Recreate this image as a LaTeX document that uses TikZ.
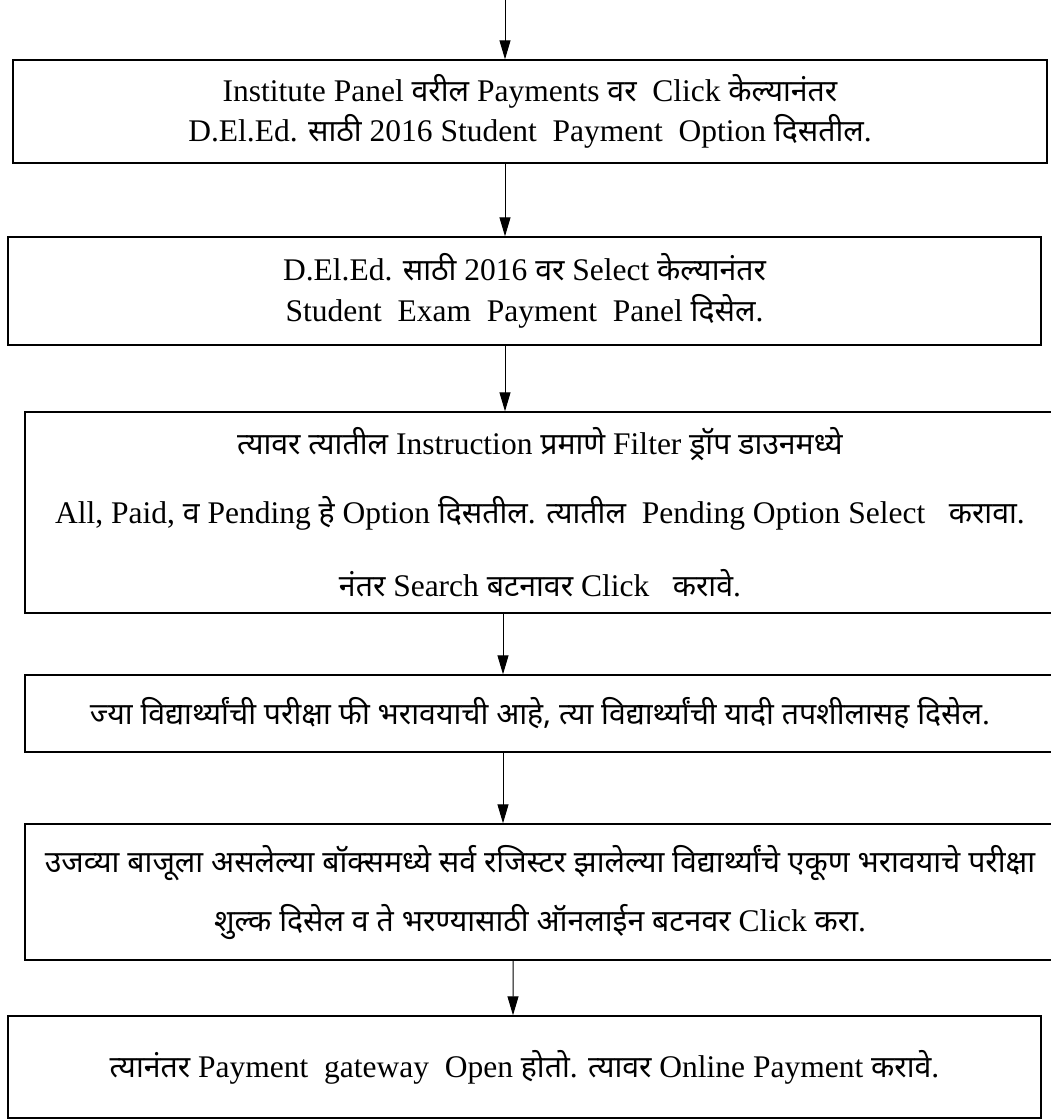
\documentclass[tikz,border=0pt]{standalone}
\usepackage{fontspec}
\setmainfont{Liberation Serif}
\newfontfamily\devfont[Script=Devanagari,Scale=0.96]{Noto Sans}
\newcommand{\dv}[1]{{\devfont #1}}
\usetikzlibrary{arrows.meta}

\begin{document}
\begin{tikzpicture}[x=1bp, y=-1bp, thick,
		stepbox/.style={draw, rectangle, line width=1.4bp, inner sep=0pt, align=center,
			font=\fontsize{31.5bp}{37bp}\selectfont},
		flow/.style={-{Triangle[length=19bp,width=11bp]}, line width=1bp}]
			\useasboundingbox (0,0) rectangle (1051,1120);
			\clip (0,0) rectangle (1051,1120);
			\coordinate (t0) at (505,0);
			\node[stepbox, minimum width=1034bp, minimum height=103bp] at (530,111.5) (s1){Institute Panel \dv{वरील} Payments \dv{वर}\ \ Click \dv{केल्यानंतर}\\[3bp]
				D.El.Ed. \dv{साठी} 2016 Student\ \ Payment\ \ Option \dv{दिसतील}.};
			\node[stepbox, minimum width=1033bp, minimum height=108bp] at (524.5,291) (s2){D.El.Ed. \dv{साठी} 2016 \dv{वर} Select \dv{केल्यानंतर}\\[4bp]
				Student\ \ Exam\ \ Payment\ \ Panel \dv{दिसेल}.};
			\node[stepbox, minimum width=1030bp, minimum height=201bp] at (540,512.5) (s3){\dv{त्यावर त्यातील} Instruction \dv{प्रमाणे} Filter \dv{ड्रॉप डाउनमध्ये}\\[32bp]
				All,\ Paid, \dv{व} Pending \dv{हे} Option \dv{दिसतील}. \dv{त्यातील}\ \ Pending Option Select\ \ \ \dv{करावा}.\\[36bp]
				\dv{नंतर} Search \dv{बटनावर} Click\ \ \ \dv{करावे}.};
			\node[stepbox, minimum width=1030bp, minimum height=77bp] at (540,713.5) (s4){\dv{ज्या विद्यार्थ्यांची परीक्षा फी भरावयाची आहे, त्या विद्यार्थ्यांची यादी तपशीलासह दिसेल}.};
			\node[stepbox, minimum width=1030bp, minimum height=136bp] at (540,892) (s5){\dv{उजव्या बाजूला असलेल्या बॉक्समध्ये सर्व रजिस्टर झालेल्या विद्यार्थ्यांचे एकूण भरावयाचे परीक्षा}\\[22bp]
				\dv{शुल्क दिसेल व ते भरण्यासाठी ऑनलाईन बटनवर} Click \dv{करा}.};
			\node[stepbox, minimum width=1033bp, minimum height=102bp] at (524.5,1067) (s6){\dv{त्यानंतर} Payment\ \ gateway\ \ Open \dv{होतो}. \dv{त्यावर} Online Payment \dv{करावे}.};
			\draw[flow] (t0) -- (s1.north -| t0);
			\draw[flow] (s1.south -| t0) -- (s2.north -| t0);
			\draw[flow] (s2.south -| t0) -- (s3.north -| t0);
			\draw[flow] ([xshift=-37bp]s3.south) -- ([xshift=-37bp]s4.north);
			\draw[flow] ([xshift=-37bp]s4.south) -- ([xshift=-37bp]s5.north);
			\draw[flow] ([xshift=-27bp]s5.south) -- ([xshift=-11.5bp]s6.north);
		\end{tikzpicture}
\end{document}
